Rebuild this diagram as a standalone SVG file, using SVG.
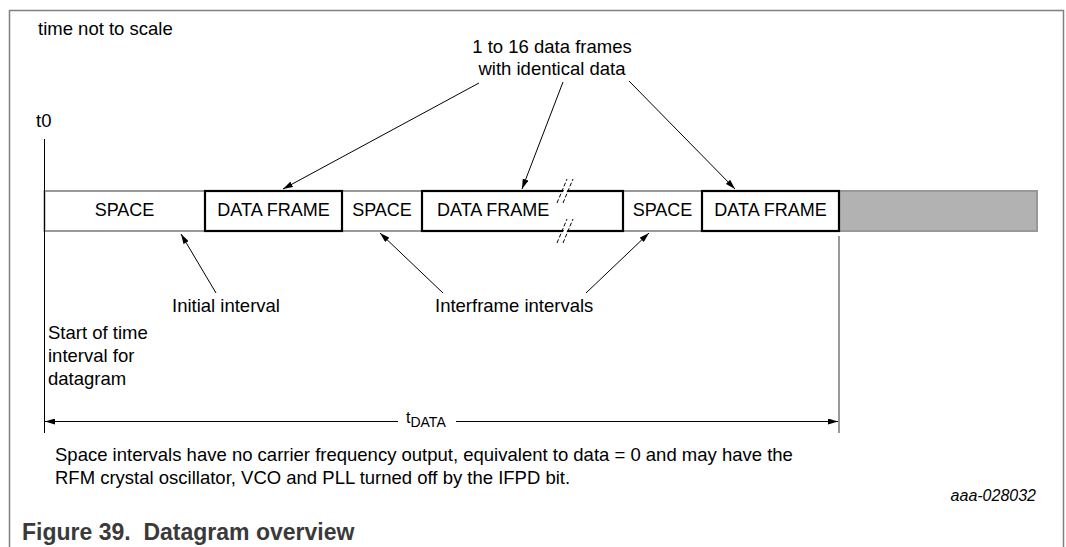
<svg xmlns="http://www.w3.org/2000/svg" width="1066" height="547" viewBox="0 0 1066 547">
<defs>
<style>
text{font-family:"Liberation Sans",Arial,sans-serif;font-size:18.5px;fill:#000}
.bl{font-size:18px}
.sp{fill:#fff;stroke:#999;stroke-width:2}
.df{fill:#fff;stroke:#000;stroke-width:2.2}
.tail{fill:#b2b2b2;stroke:#999;stroke-width:2}
.ar{stroke:#000;stroke-width:1;fill:none;marker-end:url(#ah)}
.br{stroke:#000;stroke-width:1;stroke-dasharray:4 2;fill:none}
.mid{text-anchor:middle}
</style>
<marker id="ah" viewBox="0 0 10 6" refX="10" refY="3" markerWidth="10" markerHeight="6" markerUnits="userSpaceOnUse" orient="auto">
<path d="M0,0 L10,3 L0,6 Z" fill="#000"/>
</marker>
</defs>
<rect width="1066" height="547" fill="#fff"/>
<g id="frame">
<path d="M9.5,547 V10.5 H1063.5 V547" fill="none" stroke="#808080" stroke-width="1.5"/>
</g>
<g id="labels">
<text x="38" y="34.5">time not to scale</text>
<text class="mid" x="552" y="53">1 to 16 data frames</text>
<text class="mid" x="552" y="75">with identical data</text>
<text x="36" y="127">t0</text>
<text x="172" y="312">Initial interval</text>
<text x="435" y="312">Interframe intervals</text>
<text x="48" y="339">Start of time</text>
<text x="48" y="362">interval for</text>
<text x="48" y="385">datagram</text>
<text x="55" y="461">Space intervals have no carrier frequency output, equivalent to data = 0 and may have the</text>
<text x="55" y="484">RFM crystal oscillator, VCO and PLL turned off by the IFPD bit.</text>
<text x="1036" y="501" style="text-anchor:end;font-style:italic;font-size:16px">aaa-028032</text>
<text x="22" y="540" style="font-weight:bold;font-size:23px;fill:#3a3a3a">Figure 39.&#160; Datagram overview</text>
</g>
<g id="space1"><rect class="sp" x="44.5" y="191" width="160.5" height="40"/><text class="mid bl" x="124.5" y="216">SPACE</text></g>
<g id="space2"><rect class="sp" x="342" y="191" width="80" height="40"/><text class="mid bl" x="382" y="216">SPACE</text></g>
<g id="space3"><rect class="sp" x="623" y="191" width="79" height="40"/><text class="mid bl" x="662.5" y="216">SPACE</text></g>
<g id="tail"><rect class="tail" x="839" y="191" width="198" height="40"/></g>
<g id="frame1"><rect class="df" x="205" y="191" width="137" height="40"/><text class="mid bl" x="273.5" y="216">DATA FRAME</text></g>
<g id="frame2"><rect class="df" x="422" y="191" width="201" height="40"/><text class="bl" x="437" y="216">DATA FRAME</text>
<polygon points="558.5,203 562,203 572,179 568.5,179" fill="#fff"/>
<polygon points="558.5,243 562,243 572,219 568.5,219" fill="#fff"/>
<path class="br" d="M557,203 L567,179 M563,203 L573,179 M557,243 L567,219 M563,243 L573,219"/>
</g>
<g id="frame3"><rect class="df" x="702" y="191" width="137" height="40"/><text class="mid bl" x="770.5" y="216">DATA FRAME</text></g>
<g id="connectors">
<line x1="44.5" y1="139" x2="44.5" y2="433" stroke="#000" stroke-width="1"/>
<line x1="839" y1="236" x2="839" y2="433" stroke="#999" stroke-width="2"/>
<line class="ar" x1="479" y1="83" x2="283" y2="189"/>
<line class="ar" x1="563" y1="82" x2="522" y2="189"/>
<line class="ar" x1="629" y1="81" x2="735" y2="189"/>
<line class="ar" x1="216" y1="293" x2="181" y2="234"/>
<line class="ar" x1="443" y1="293" x2="380" y2="233"/>
<line class="ar" x1="586" y1="293" x2="649" y2="233"/>
<line class="ar" x1="398" y1="421.5" x2="45" y2="421.5"/>
<line class="ar" x1="456" y1="421.5" x2="838" y2="421.5"/>
<text x="406" y="423" style="font-size:16px">t<tspan dy="4" style="font-size:14px">DATA</tspan></text>
</g>
</svg>
